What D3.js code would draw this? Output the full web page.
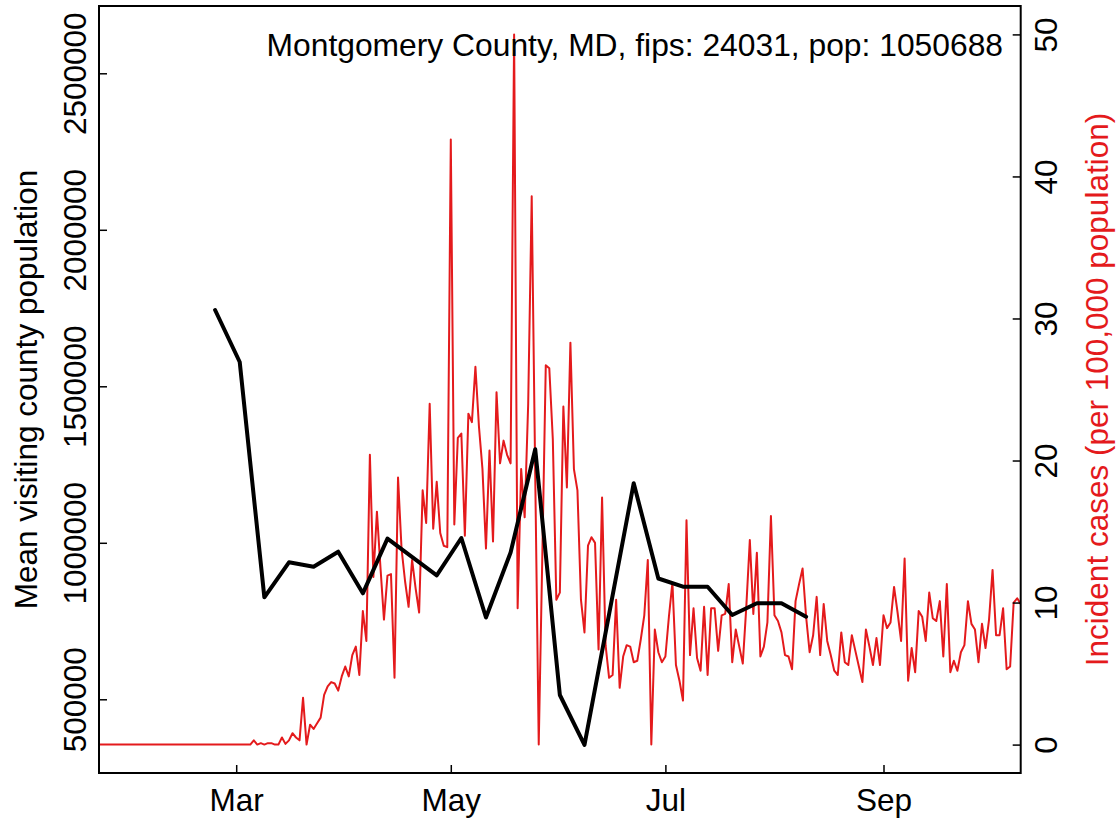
<!DOCTYPE html>
<html>
<head>
<meta charset="utf-8">
<script src="https://cdn.jsdelivr.net/npm/d3@7"></script>
<style>
  html, body { margin: 0; padding: 0; background: #ffffff; }
  svg { display: block; }
  text { font-family: "Liberation Sans", Arial, Helvetica, sans-serif; }
</style>
</head>
<body>
<svg id="chart" width="1119" height="822"></svg>
<script>
// ---------------- data ----------------
const titleText = "Montgomery County, MD, fips: 24031, pop: 1050688";
const leftLabel = "Mean visiting county population";
const rightLabel = "Incident cases (per 100,000 population)";

// weekly mean visiting county population (Mondays)
const visitDates = ["2020-02-24","2020-03-02","2020-03-09","2020-03-16","2020-03-23","2020-03-30",
  "2020-04-06","2020-04-13","2020-04-27","2020-05-04","2020-05-11","2020-05-18","2020-05-25",
  "2020-06-01","2020-06-08","2020-06-22","2020-06-29","2020-07-06","2020-07-13","2020-07-20",
  "2020-07-27","2020-08-03","2020-08-10"];
const visitValues = [1743700,1577600,825800,937700,923600,971500,838600,1013100,896100,1015300,
  761300,969000,1298700,513700,354000,1190400,885900,859700,859700,769300,806700,806700,763900];

// daily incident cases per 100,000, starting 2020-01-22
const caseStart = "2020-01-22";
const caseValues = [
  // Jan 22 - Jan 31
  0,0,0,0,0,0,0,0,0,0,
  // Feb 1 - Feb 29
  0,0,0,0,0,0,0,0,0,0,0,0,0,0,0,0,0,0,0,0,0,0,0,0,0,0,0,0,0,
  // Mar 1 - Mar 31
  0,0,0,0,0,0.3,0,0.1,0,0.1,0.1,0,0,0.5,0.05,0.3,0.8,0.5,0.3,3.3,0,1.4,1.1,1.5,1.9,3.5,4.1,4.4,4.3,3.8,4.8,
  // Apr 1 - Apr 30
  5.5,4.8,6.3,6.9,4.9,9.4,7.3,20.4,11.8,16.4,12.5,8.8,11.9,12,4.7,18.8,13.8,11.5,9.7,13,11,9.3,17.9,15.6,24,15.2,18.5,14.9,14,13.9,
  // May 1 - May 31
  42.6,15.5,21.6,21.9,14.7,23.3,22.7,26.6,22.4,19.4,13.8,20.7,14.3,24.8,19.8,21.4,20.4,19.8,50,9.6,19.4,16,24,38.6,19,0,13.1,26.7,26.5,21.5,10.2,
  // Jun 1 - Jun 30
  10.7,23.8,18.1,28.3,19.4,17.9,10.2,7.9,14,14.6,14.2,6.7,17.4,7,4.7,4.9,10.2,4,6.2,7,6.9,5.8,5.9,7.4,9.1,13,0,8.1,6.5,5.8,
  // Jul 1 - Jul 31
  6.2,9,11.4,5.6,4.5,3.1,15.8,6.3,9.6,6.1,5.2,9.7,4.9,9.6,9.6,6.6,9.1,9.2,11.3,5.8,8.1,6.9,5.7,9.7,14.4,9.2,13.5,6.2,6.9,8.6,16.1,
  // Aug 1 - Aug 31
  9.1,8.7,7.9,6.3,6.2,5.3,10.1,11.3,12.4,9,6.5,7.7,10.4,6.3,9.9,7.3,6.3,5.2,4.9,7.9,5.8,5.6,7.7,6.6,5.5,4.4,8.1,6.9,5.6,7.5,5.6,
  // Sep 1 - Sep 30
  9.1,8.2,8.6,11.1,9.3,7.3,13.1,4.5,6.8,5.1,9.4,9,7.3,10.7,8.9,8.7,10.1,6.2,11.3,5.1,5.9,5.2,6.5,7,10.1,8.5,8.1,5.8,8.5,6.8,
  // Oct 1 - Oct 10
  8.8,12.3,7.7,7.7,9.6,5.3,5.5,10,10.3,9.9
];

const xTickDates = ["2020-03-01","2020-05-01","2020-07-01","2020-09-01"];
const xTickLabels = ["Mar","May","Jul","Sep"];
const leftTicks = [500000,1000000,1500000,2000000,2500000];
const rightTicks = [0,10,20,30,40,50];

// ---------------- layout ----------------
const plot = { left: 99, right: 1020.7, top: 6, bottom: 773 };
const fontSize = 31.5;
const titleSize = 31.8;
const red = "#e41a1c";

const parse = d3.utcParse("%Y-%m-%d");
const x = d3.scaleUtc()
  .domain([parse("2020-01-22"), parse("2020-10-10")])
  .range([plot.left, plot.right]);
const yL = d3.scaleLinear().domain([264500, 2715000]).range([plot.bottom, plot.top]);
const yR = d3.scaleLinear().domain([-2, 52]).range([plot.bottom, plot.top]);

const svg = d3.select("#chart");

svg.append("defs").append("clipPath").attr("id", "clip")
  .append("rect")
  .attr("x", plot.left).attr("y", plot.top)
  .attr("width", plot.right - plot.left).attr("height", plot.bottom - plot.top);

// data
const visits = visitDates.map((d, i) => ({ date: parse(d), value: visitValues[i] }));
const start = parse(caseStart);
const cases = caseValues.map((v, i) => ({ date: d3.utcDay.offset(start, i), value: v }));

const g = svg.append("g").attr("clip-path", "url(#clip)");

g.append("path")
  .datum(cases)
  .attr("fill", "none")
  .attr("stroke", red)
  .attr("stroke-width", 2)
  .attr("stroke-linejoin", "round")
  .attr("d", d3.line().x(d => x(d.date)).y(d => yR(d.value)));

g.append("path")
  .datum(visits)
  .attr("fill", "none")
  .attr("stroke", "#000")
  .attr("stroke-width", 4)
  .attr("stroke-linejoin", "round")
  .attr("stroke-linecap", "round")
  .attr("d", d3.line().x(d => x(d.date)).y(d => yL(d.value)));

// axes (inward ticks)
const axL = svg.append("g").attr("transform", `translate(${plot.left},0)`)
  .call(d3.axisLeft(yL).tickValues(leftTicks).tickSize(-8).tickFormat(d3.format("d")));
axL.select(".domain").remove();
axL.selectAll(".tick line").attr("stroke", "#000").attr("stroke-width", 1.5);
axL.selectAll(".tick text")
  .attr("x", 0).attr("y", -13).attr("dy", null)
  .attr("transform", "rotate(-90)")
  .attr("text-anchor", "middle")
  .attr("fill", "#000")
  .style("font-size", fontSize + "px");

const axR = svg.append("g").attr("transform", `translate(${plot.right},0)`)
  .call(d3.axisRight(yR).tickValues(rightTicks).tickSize(-8));
axR.select(".domain").remove();
axR.selectAll(".tick line").attr("stroke", "#000").attr("stroke-width", 1.5);
axR.selectAll(".tick text")
  .attr("x", 0).attr("y", 36.5).attr("dy", null)
  .attr("transform", "rotate(-90)")
  .attr("text-anchor", "middle")
  .attr("fill", "#000")
  .style("font-size", fontSize + "px");

const axB = svg.append("g").attr("transform", `translate(0,${plot.bottom})`)
  .call(d3.axisBottom(x).tickValues(xTickDates.map(parse)).tickSize(-8)
    .tickFormat((d, i) => xTickLabels[i]));
axB.select(".domain").remove();
axB.selectAll(".tick line").attr("stroke", "#000").attr("stroke-width", 1.5);
axB.selectAll(".tick text")
  .attr("y", 38).attr("dy", null)
  .attr("fill", "#000")
  .style("font-size", fontSize + "px");

// frame
svg.append("rect")
  .attr("x", plot.left).attr("y", plot.top)
  .attr("width", plot.right - plot.left).attr("height", plot.bottom - plot.top)
  .attr("fill", "none").attr("stroke", "#000").attr("stroke-width", 2);

// title inside plot
svg.append("text")
  .attr("x", 1003).attr("y", 56)
  .attr("text-anchor", "end")
  .style("font-size", titleSize + "px")
  .attr("fill", "#000")
  .text(titleText);

// axis titles
svg.append("text")
  .attr("transform", `translate(37,${(plot.top + plot.bottom) / 2}) rotate(-90)`)
  .attr("text-anchor", "middle")
  .style("font-size", fontSize + "px")
  .attr("fill", "#000")
  .text(leftLabel);

svg.append("text")
  .attr("transform", `translate(1108,${(plot.top + plot.bottom) / 2}) rotate(-90)`)
  .attr("text-anchor", "middle")
  .style("font-size", fontSize + "px")
  .attr("fill", red)
  .text(rightLabel);
</script>
</body>
</html>
